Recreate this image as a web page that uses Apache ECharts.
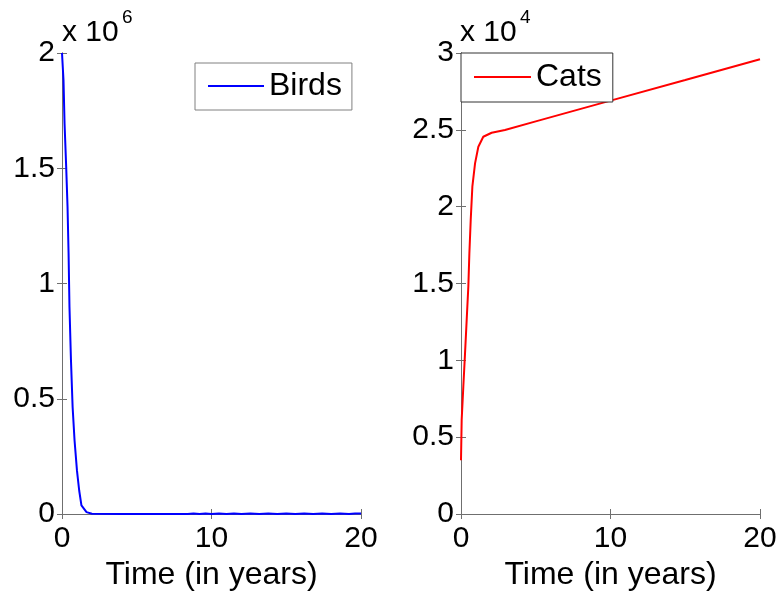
<!DOCTYPE html>
<html>
<head>
<meta charset="utf-8">
<script src="https://cdn.jsdelivr.net/npm/echarts@6/dist/echarts.min.js"></script>
<style>
  html, body { margin: 0; padding: 0; background: #ffffff; }
  #chart { width: 780px; height: 591px; }
</style>
</head>
<body>
<div id="chart"></div>
<script>
// Bird population over time (years)
const birdTime = [0, 0.1, 0.17, 0.28, 0.37, 0.44, 0.5, 0.6, 0.71, 0.84, 1.0, 1.15, 1.3, 1.64, 2.0,
  4, 6, 8.4, 8.8, 9.2, 9.6, 10.0, 10.5, 11.0, 11.5, 12.0, 12.6, 13.2, 13.8, 14.4, 15.0, 15.6, 16.2, 16.8, 17.4, 18.0, 18.6, 19.2, 19.6, 20];
const birds = [2000000, 1883000, 1695000, 1506000, 1333000, 1130000, 898000, 667000, 464000, 319000, 189000, 102000, 37000, 8000, 1000,
  0, 0, 0, 2500, 0, 2500, 0, 2500, 0, 2500, 0, 2500, 0, 2500, 0, 2500, 0, 2500, 0, 2500, 0, 2500, 0, 2500, 2500];

// Cat population over time (years)
const catTime = [0, 0.045, 0.155, 0.27, 0.38, 0.49, 0.56, 0.65, 0.76, 0.94, 1.16, 1.49, 2.05, 2.94, 5, 10, 15, 20];
const cats = [3500, 6120, 8280, 10460, 12620, 14790, 16970, 19130, 21300, 22820, 23900, 24550, 24810, 24990, 25550, 26900, 28240, 29590];

const xTicks = { min: 0, max: 20, interval: 10 };
const birdScale = 1e6, catScale = 1e4;

const FONT = "'Liberation Sans', Arial, sans-serif";
const AXIS_COLOR = '#6f6f6f';

function pairs(xs, ys) { return xs.map((x, i) => [x, ys[i]]); }

function xAxisDef(gridIndex, top) {
  return {
    type: 'value', gridIndex, position: top ? 'top' : 'bottom',
    min: xTicks.min, max: xTicks.max, interval: xTicks.interval,
    name: top ? '' : 'Time (in years)', nameLocation: 'middle', nameGap: 42,
    nameTextStyle: { fontFamily: FONT, fontSize: 32, color: '#000' },
    axisLine: { show: true, lineStyle: { color: AXIS_COLOR, width: 1 } },
    axisTick: { show: true, inside: true, length: 5, lineStyle: { color: AXIS_COLOR } },
    axisLabel: { show: !top, fontFamily: FONT, fontSize: 30, color: '#000', margin: 10 },
    splitLine: { show: false }
  };
}

function yAxisDef(gridIndex, right, max, step, scale) {
  return {
    type: 'value', gridIndex, position: right ? 'right' : 'left',
    min: 0, max, interval: step,
    axisLine: { show: true, lineStyle: { color: AXIS_COLOR, width: 1 } },
    axisTick: { show: true, inside: true, length: 5, lineStyle: { color: AXIS_COLOR } },
    axisLabel: { show: !right, fontFamily: FONT, fontSize: 30, color: '#000', margin: 7,
      formatter: v => String(+(v / scale).toFixed(2)) },
    splitLine: { show: false }
  };
}

const chart = echarts.init(document.getElementById('chart'), null, { renderer: 'canvas' });

chart.setOption({
  animation: false,
  backgroundColor: '#ffffff',
  grid: [
    { left: 62, top: 53, width: 299, height: 461, outerBoundsMode: 'none', containLabel: false },
    { left: 461, top: 53, width: 299, height: 461, outerBoundsMode: 'none', containLabel: false }
  ],
  xAxis: [xAxisDef(0, false), xAxisDef(1, false), xAxisDef(0, true), xAxisDef(1, true)],
  yAxis: [
    yAxisDef(0, false, 2000000, 500000, birdScale),
    yAxisDef(1, false, 30000, 5000, catScale),
    yAxisDef(0, true, 2000000, 500000, birdScale),
    yAxisDef(1, true, 30000, 5000, catScale)
  ],
  legend: [
    {
      data: ['Birds'], left: 195, top: 63,
      padding: [7, 10, 8, 12], itemWidth: 56, itemHeight: 2,
      borderColor: '#808080', borderWidth: 1, backgroundColor: '#ffffff',
      textStyle: { fontFamily: FONT, fontSize: 32, color: '#000' }
    },
    {
      data: ['Cats'], left: 461, top: 53,
      padding: [8, 11, 9, 12], itemWidth: 57, itemHeight: 2,
      borderColor: '#333333', borderWidth: 1, backgroundColor: '#ffffff',
      textStyle: { fontFamily: FONT, fontSize: 32, color: '#000' }
    }
  ],
  graphic: [
    { type: 'text', left: 62, top: 18, style: { text: 'x 10', font: '30px ' + FONT, fill: '#000' } },
    { type: 'text', left: 122, top: 8, style: { text: '6', font: '19px ' + FONT, fill: '#000' } },
    { type: 'text', left: 460, top: 18, style: { text: 'x 10', font: '30px ' + FONT, fill: '#000' } },
    { type: 'text', left: 520, top: 8, style: { text: '4', font: '19px ' + FONT, fill: '#000' } }
  ],
  series: [
    {
      name: 'Birds', type: 'line', xAxisIndex: 0, yAxisIndex: 0,
      data: pairs(birdTime, birds), symbol: 'none',
      lineStyle: { color: '#0000ff', width: 2 }, itemStyle: { color: '#0000ff' }
    },
    {
      name: 'Cats', type: 'line', xAxisIndex: 1, yAxisIndex: 1,
      data: pairs(catTime, cats), symbol: 'none',
      lineStyle: { color: '#ff0000', width: 2 }, itemStyle: { color: '#ff0000' }
    }
  ]
});
</script>
</body>
</html>
